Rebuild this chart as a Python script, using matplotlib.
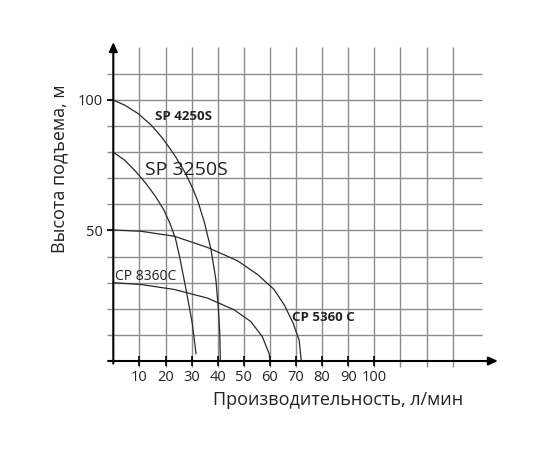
import numpy as np
import matplotlib.pyplot as plt

plt.rcParams['font.family'] = ['Open Sans', 'DejaVu Sans']

# curves (flow l/min, head m)
sp4250_q = [0, 4.4, 9.5, 14.6, 19.0, 23.5, 27.4, 30.5, 32.5, 34.9, 37.4, 39.3, 40.3, 40.8, 41.0]
sp4250_h = [100, 98.0, 94.8, 90.3, 85.2, 78.8, 72.4, 66.0, 60.9, 53.1, 42.9, 31.2, 19.6, 10.5, 0.3]

sp3250_q = [0, 4.4, 8.8, 12.6, 16.2, 19.3, 21.6, 23.8, 25.4, 27.9, 30.2, 31.7]
sp3250_h = [80, 76.9, 72.4, 67.9, 63.0, 58.0, 53.0, 47.0, 40.0, 27.2, 14.8, 2.8]

cp5360_q = [0, 10.7, 23.4, 36.1, 47.6, 55.2, 61.6, 65.5, 68.9, 71.2, 72.0]
cp5360_h = [50.2, 49.7, 47.8, 43.5, 38.4, 33.2, 27.4, 21.5, 14.5, 8.0, 0.3]

cp8360_q = [0, 10.7, 23.4, 36.1, 46.3, 52.7, 57.1, 59.7, 60.0]
cp8360_h = [30.0, 29.3, 27.4, 24.1, 19.6, 15.1, 9.3, 2.8, 0.3]

x_ticks = [10, 20, 30, 40, 50, 60, 70, 80, 90, 100]
y_ticks = [50, 100]
grid_x = np.arange(10, 140, 10)
grid_y = np.arange(10, 120, 10)

fig = plt.figure(figsize=(5.5, 4.5), dpi=100)
ax = fig.add_axes([0.17753, 0.16298, 0.74978, 0.76560])
ax.set_xlim(-6, 152)
ax.set_ylim(-6, 126)

# grid
ax.vlines(grid_x, -2.2, 120.4, color='#8c8c8c', lw=1.0, zorder=1)
ax.hlines(grid_y, -2.3, 141.2, color='#8c8c8c', lw=1.0, zorder=1)

# axes with arrows
arr = dict(arrowstyle='-|>,head_length=0.55,head_width=0.25', color='black', lw=1.5,
           shrinkA=0, shrinkB=0)
ax.annotate('', xy=(147.4, 0), xytext=(-2, 0), arrowprops=arr, zorder=3)
ax.annotate('', xy=(0, 122.2), xytext=(0, -1), arrowprops=arr, zorder=3)

for s in ax.spines.values():
    s.set_visible(False)
ax.spines['left'].set_position(('data', 0))
ax.spines['bottom'].set_position(('data', 0))

ax.set_xticks(x_ticks)
ax.set_yticks(y_ticks)
ax.tick_params(axis='x', direction='inout', length=7.5, width=1.2, pad=3,
               labelsize=10.5, colors='black')
ax.tick_params(axis='y', direction='out', length=4.5, width=1.2, pad=3,
               labelsize=10.5, colors='black')
for lab in ax.get_xticklabels() + ax.get_yticklabels():
    lab.set_color('#222222')

# pump curves
lc = '#2a2a2a'
ax.plot(sp4250_q, sp4250_h, color=lc, lw=0.9, zorder=2)
ax.plot(sp3250_q, sp3250_h, color=lc, lw=0.9, zorder=2)
ax.plot(cp5360_q, cp5360_h, color=lc, lw=0.9, zorder=2)
ax.plot(cp8360_q, cp8360_h, color=lc, lw=0.9, zorder=2)

ax.text(16.0, 93.6, 'SP 4250S', fontsize=9.5, fontweight='bold', va='center', color='#222222')
ax.text(12.1, 73.2, 'SP 3250S', fontsize=14, va='center', color='#222222')
ax.text(0.6, 32.3, 'CP 8360C', fontsize=10, va='center', color='#222222')
ax.text(68.3, 16.7, 'CP 5360 C', fontsize=9.5, fontweight='bold', va='center', color='#222222')

fig.text(59 / 550, 1 - 169 / 450, 'Высота подъема, м', rotation=90,
         ha='center', va='center', fontsize=13, color='#222222')
fig.text(338 / 550, 1 - 400 / 450, 'Производительность, л/мин',
         ha='center', va='center', fontsize=13, color='#222222')

fig.savefig('out.png', dpi=100)
